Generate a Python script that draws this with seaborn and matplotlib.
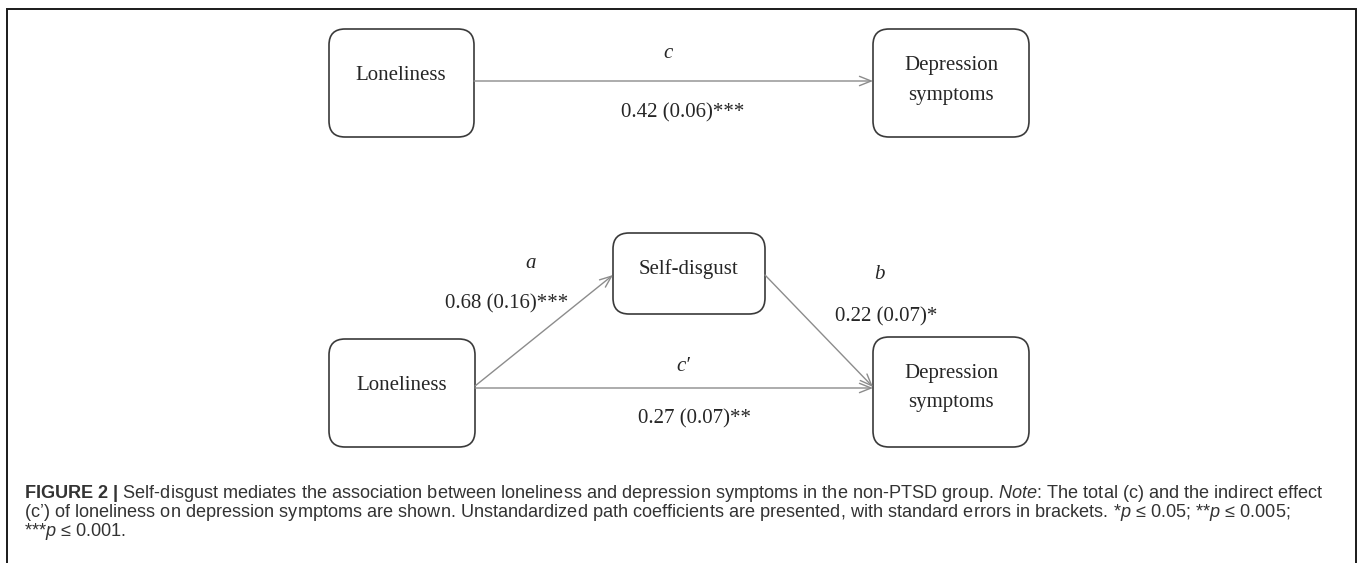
import seaborn as sns
import matplotlib.pyplot as plt
from matplotlib.patches import FancyBboxPatch

# Nodes of the mediation model
node_labels = ['Loneliness', 'Depression\nsymptoms', 'Self-disgust']

# Paths: name, coefficient, standard error, significance stars
path_names = ['c', 'a', 'b', 'c\u2032']
path_coefs = [0.42, 0.68, 0.22, 0.27]
path_ses = [0.06, 0.16, 0.07, 0.07]
path_stars = ['***', '***', '*', '**']

caption_lines = [
    r'$\mathbf{FIGURE\ 2\ |}$ Self-disgust mediates the association between loneliness and depression '
    r'symptoms in the non-PTSD group. $\mathit{Note}$: The total (c) and the indirect effect',
    r'(c’) of loneliness on depression symptoms are shown. Unstandardized path coefficients are '
    r'presented, with standard errors in brackets. *$\mathit{p}$ ≤ 0.05; **$\mathit{p}$ ≤ 0.005;',
    r'***$\mathit{p}$ ≤ 0.001.',
]

# Layout in pixel coordinates (y grows downwards)
boxes = {
    'lon_top': (329, 29, 474, 137),
    'dep_top': (873, 29, 1029, 137),
    'self': (613, 233, 765, 314),
    'lon_bot': (329, 339, 475, 447),
    'dep_bot': (873, 337, 1029, 447),
}
box_text = {
    'lon_top': (0, 401, [80]),
    'dep_top': (1, 951, [70, 100]),
    'self': (2, 689, [274]),
    'lon_bot': (0, 402, [390]),
    'dep_bot': (1, 951, [378, 407]),
}
arrows = [((474, 81), (873, 81)),
          ((475, 386), (613, 275)),
          ((765, 275), (873, 387)),
          ((475, 388), (873, 388))]
name_pos = [(668, 58), (531, 268), (879, 279), (683, 371)]
coef_pos = [(683, 117), (507, 308), (886, 321), (695, 423)]

sns.set_theme(style='white')
plt.rcParams['font.family'] = ['Liberation Serif', 'DejaVu Serif']
plt.rcParams['mathtext.fontset'] = 'custom'
plt.rcParams['mathtext.rm'] = 'Liberation Sans'
plt.rcParams['mathtext.it'] = 'Liberation Sans:italic'
plt.rcParams['mathtext.bf'] = 'Liberation Sans:bold'

W, H = 1363, 563
fig = plt.figure(figsize=(W / 100, H / 100), dpi=100)
ax = fig.add_axes([0, 0, 1, 1])
ax.set_xlim(0, W)
ax.set_ylim(H, 0)
ax.axis('off')

# outer frame (bottom edge is cut off in the figure)
ax.plot([7, 7, 1356, 1356], [H + 5, 9, 9, H + 5], color='#1a1a1a', lw=1.4,
        solid_joinstyle='miter')

txt_color = '#262626'
fs = 15

for key, (x0, y0, x1, y1) in boxes.items():
    ax.add_patch(FancyBboxPatch((x0, y0), x1 - x0, y1 - y0,
                                boxstyle='round,pad=0,rounding_size=16',
                                fc='white', ec='#3a3a3a', lw=1.2))
    idx, cx, baselines = box_text[key]
    for line, by in zip(node_labels[idx].split('\n'), baselines):
        ax.text(cx, by, line, ha='center', va='baseline', fontsize=fs, color=txt_color)

for (p0, p1) in arrows:
    ax.annotate('', xy=p1, xytext=p0,
                arrowprops=dict(arrowstyle='->,head_length=0.7,head_width=0.28',
                                color='#8c8c8c', lw=1.0, shrinkA=0, shrinkB=0))

for name, (x, y) in zip(path_names, name_pos):
    ax.text(x, y, name, ha='center', va='baseline', fontsize=fs,
            fontstyle='italic', color=txt_color)

for coef, se, st, (x, y) in zip(path_coefs, path_ses, path_stars, coef_pos):
    ax.text(x, y, f'{coef:.2f} ({se:.2f}){st}', ha='center', va='baseline',
            fontsize=fs, color=txt_color)

# caption, sized so the first line spans the same width as in the figure
cap_base = [498, 517, 536]
cap_texts = [ax.text(24, y, s, ha='left', va='baseline', fontsize=12,
                     family=['Liberation Sans', 'DejaVu Sans'], color='#333333')
             for s, y in zip(caption_lines, cap_base)]
fig.canvas.draw()
w = cap_texts[0].get_window_extent().width
for t in cap_texts:
    t.set_fontsize(12 * 1298 / w)

fig.savefig('out.png', dpi=100)
plt.close(fig)
